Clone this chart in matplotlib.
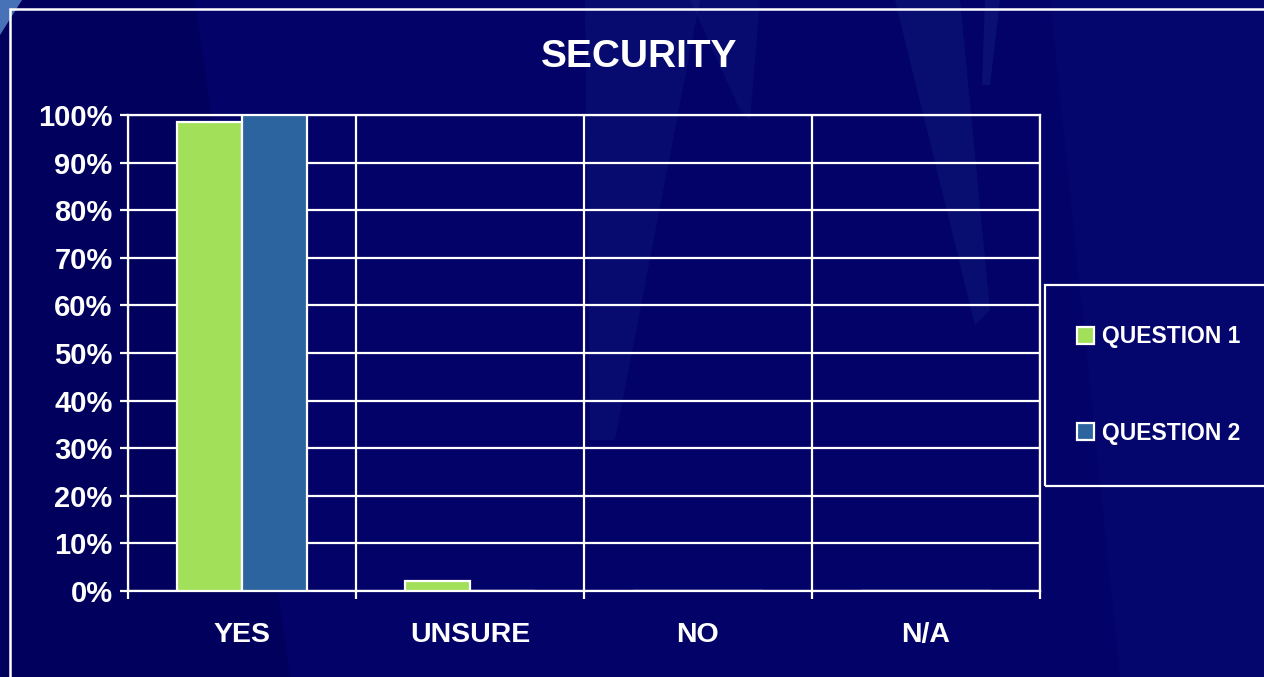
import matplotlib
matplotlib.use("Agg")
import matplotlib.pyplot as plt
from matplotlib.patches import Rectangle, Polygon
import numpy as np

categories = ["YES", "UNSURE", "NO", "N/A"]
question1 = [98.5, 2.0, 0.0, 0.0]
question2 = [100.0, 0.0, 0.0, 0.0]
series_names = ["QUESTION 1", "QUESTION 2"]
yticks = list(range(0, 101, 10))
title = "SECURITY"

W, H = 1264, 677
plt.rcParams['font.family'] = ['Liberation Sans', 'DejaVu Sans']
fig = plt.figure(figsize=(W / 100, H / 100), dpi=100)
bg = "#020268"
fig.patch.set_facecolor(bg)

def px(x, y):
    return (x / W, 1 - y / H)

# decorative background streaks
streaks = [
    ([(0, 0), (0, 677), (290, 677), (195, 0)], "#000050", 0.45),
    ([(585, 0), (700, 0), (615, 440), (590, 440)], "#3a5fb0", 0.10),
    ([(690, 0), (760, 0), (750, 120), (740, 110)], "#3a5fb0", 0.10),
    ([(895, 0), (960, 0), (990, 310), (975, 325)], "#3a5fb0", 0.12),
    ([(985, 0), (1000, 0), (990, 85), (982, 85)], "#3a5fb0", 0.15),
    ([(0, 0), (22, 0), (0, 35)], "#5a8fd0", 0.8),
    ([(1050, 0), (1264, 0), (1264, 677), (1120, 677)], "#0a0a78", 0.4),
]
for pts, c, a in streaks:
    fig.patches.append(Polygon([px(*p) for p in pts], closed=True, transform=fig.transFigure,
                               facecolor=c, alpha=a, edgecolor="none", zorder=-10))

# outer frame
fig.patches.append(Rectangle(px(10, 687), 1270 / W, 678 / H, transform=fig.transFigure,
                             facecolor="none", edgecolor="white", lw=1.8, zorder=-5))

left, right, top, bottom = 128, 1040, 115, 591
ax = fig.add_axes([left / W, 1 - bottom / H, (right - left) / W, (bottom - top) / H])
ax.set_facecolor("none")
ax.set_zorder(5)

x = np.arange(len(categories))
bw = 0.287
c1, c2 = "#a2e05a", "#2c64a0"
b1 = ax.bar(x - bw / 2, question1, bw, color=c1, edgecolor="white", lw=1.6, zorder=3, label=series_names[0])
b2 = ax.bar(x + bw / 2, question2, bw, color=c2, edgecolor="white", lw=1.6, zorder=3, label=series_names[1])

ax.set_xlim(-0.5, len(categories) - 0.5)
ax.set_ylim(0, 100)
ax.set_yticks(yticks)
ax.set_yticklabels([f"{v}%" for v in yticks])
ax.set_xticks(x)
ax.set_xticklabels(categories)
ax.set_xticks(np.arange(len(categories) + 1) - 0.5, minor=True)
ax.grid(axis="y", color="white", lw=1.6, zorder=1)
ax.grid(axis="x", which="minor", color="white", lw=1.6, zorder=1)
ax.tick_params(axis="x", which="major", length=0, pad=22, labelsize=20.5, labelcolor="white")
ax.tick_params(axis="x", which="minor", length=6, width=1.6, color="white")
ax.tick_params(axis="y", length=6, width=1.6, color="white", pad=5, labelsize=21, labelcolor="white")
for lab in ax.get_xticklabels() + ax.get_yticklabels():
    lab.set_fontweight("bold")
for s in ax.spines.values():
    s.set_color("white")
    s.set_linewidth(1.6)

fig.text(639 / W, 1 - 57 / H, title, ha="center", va="center", color="white",
         fontsize=28, fontweight="bold")

# legend box
fig.patches.append(Rectangle(px(1045, 486), 240 / W, 201 / H, transform=fig.transFigure,
                             facecolor="none", edgecolor="white", lw=1.6, zorder=-5))
leg = fig.legend(handles=[b1, b2], labels=series_names, loc="center left",
                 bbox_to_anchor=px(1056, 385), frameon=False,
                 handlelength=0.75, handleheight=0.75, handletextpad=0.35,
                 labelspacing=3.2, labelcolor="white", prop={"weight": "bold", "size": 16.5})

fig.savefig("out.png", dpi=100, facecolor=fig.get_facecolor())
